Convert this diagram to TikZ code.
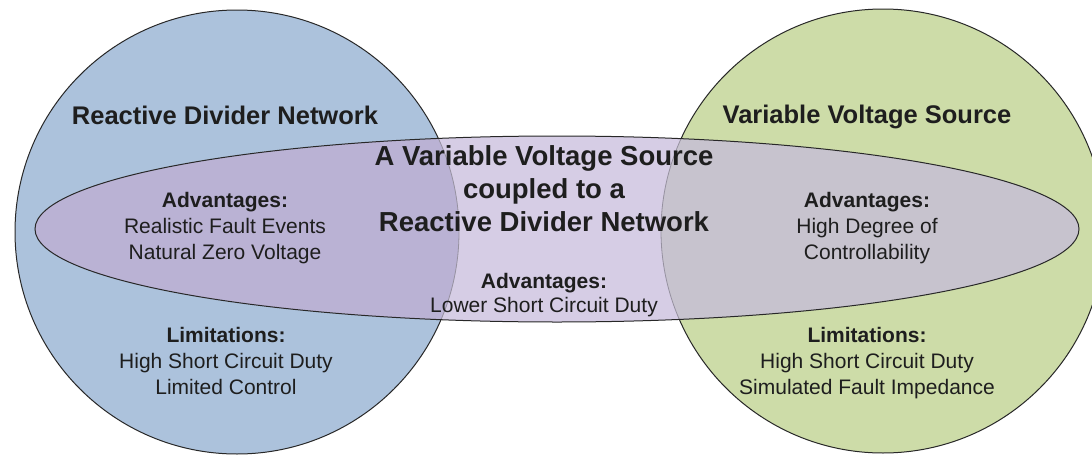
\documentclass[tikz,border=0pt]{standalone}
\usepackage{fontspec}
\setmainfont{Liberation Sans}
\definecolor{cblue}{RGB}{172,194,220}
\definecolor{cgreen}{RGB}{205,220,168}
\definecolor{clav}{RGB}{214,205,229}
\definecolor{clovl}{RGB}{186,178,212}
\definecolor{crovl}{RGB}{199,195,206}
\definecolor{cline}{RGB}{40,40,40}
\definecolor{cinner}{RGB}{150,145,160}
\definecolor{ctext}{RGB}{30,30,30}
\tikzset{
  big/.style={anchor=base, text=ctext, font=\fontsize{25.5}{30}\selectfont\bfseries, inner sep=0pt},
  mid/.style={anchor=base, text=ctext, font=\fontsize{27.5}{33}\selectfont\bfseries, inner sep=0pt},
  head/.style={anchor=base, text=ctext, font=\fontsize{21}{25}\selectfont\bfseries, inner sep=0pt},
  body/.style={anchor=base, text=ctext, font=\fontsize{21}{25}\selectfont, inner sep=0pt},
  outline/.style={draw=cline, line width=1pt}
}
\begin{document}
\begin{tikzpicture}[x=1pt,y=-1pt]
\clip (0,0) rectangle (1092,455);
\fill[white] (0,0) rectangle (1092,455);
% circles
\fill[cblue] (237,232) circle [radius=222];
\fill[cgreen] (883,231) circle [radius=222];
\draw[outline] (237,232) circle [radius=222];
\draw[outline] (883,231) circle [radius=222];
% ellipse regions
\fill[clav] (557,229) ellipse [x radius=522, y radius=93];
\begin{scope}
  \clip (557,229) ellipse [x radius=522, y radius=93];
  \fill[clovl] (237,232) circle [radius=222];
  \fill[crovl] (883,231) circle [radius=222];
  \draw[draw=cinner, line width=0.8pt] (237,232) circle [radius=222];
  \draw[draw=cinner, line width=0.8pt] (883,231) circle [radius=222];
\end{scope}
\draw[outline] (557,229) ellipse [x radius=522, y radius=93];
% left texts
\node[big] (lt) at (225,124) {Reactive Divider Network};
\node[head] (la) at (225,207) {Advantages:};
\node[body] (la1) at (225,233) {Realistic Fault Events};
\node[body] (la2) at (225,259) {Natural Zero Voltage};
\node[head] (ll) at (226,342) {Limitations:};
\node[body] (ll1) at (226,368) {High Short Circuit Duty};
\node[body] (ll2) at (226,394) {Limited Control};
% right texts
\node[big] (rt) at (867,123) {Variable Voltage Source};
\node[head] (ra) at (867,207) {Advantages:};
\node[body] (ra1) at (867,233) {High Degree of};
\node[body] (ra2) at (867,259) {Controllability};
\node[head] (rl) at (867,342) {Limitations:};
\node[body] (rl1) at (867,368) {High Short Circuit Duty};
\node[body] (rl2) at (867,394) {Simulated Fault Impedance};
% center texts
\node[mid] (ct1) at (544,165) {A Variable Voltage Source};
\node[mid] (ct2) at (544,198) {coupled to a};
\node[mid] (ct3) at (544,231) {Reactive Divider Network};
\node[head] (ca) at (544,288) {Advantages:};
\node[body] (ca1) at (544,312) {Lower Short Circuit Duty};
\end{tikzpicture}
\end{document}
